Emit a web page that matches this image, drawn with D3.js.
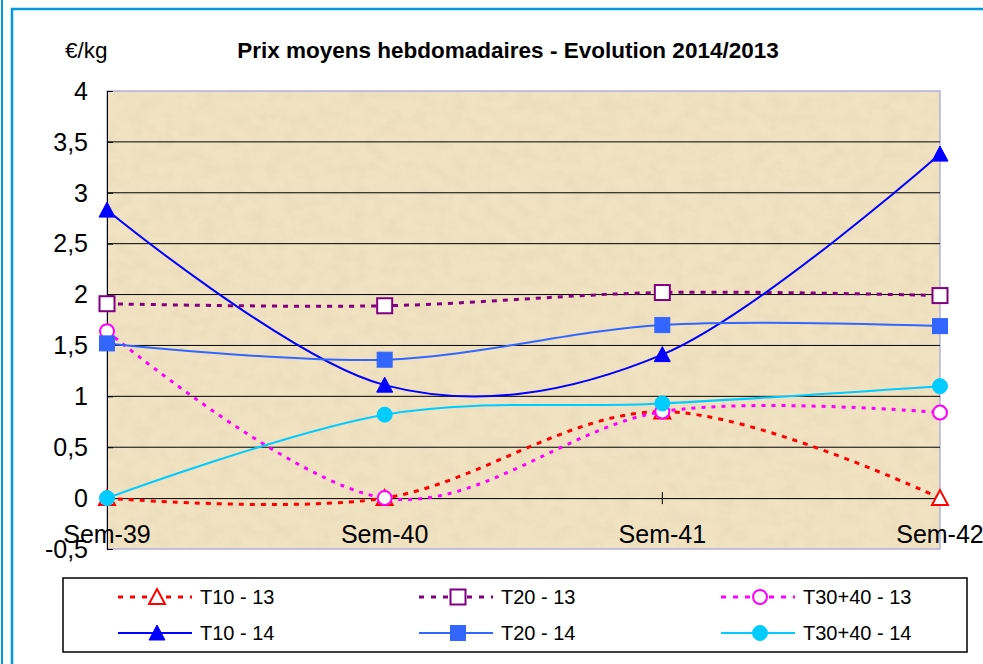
<!DOCTYPE html>
<html>
<head>
<meta charset="utf-8">
<script src="https://cdn.jsdelivr.net/npm/d3@7"></script>
<style>
  body { margin: 0; background: #fff; }
  svg { display: block; font-family: Arial, "Liberation Sans", sans-serif; }
</style>
</head>
<body>
<div id="chart"></div>
<script>
// data
var weeks = ["Sem-39", "Sem-40", "Sem-41", "Sem-42"];
var yTicks = [-0.5, 0, 0.5, 1, 1.5, 2, 2.5, 3, 3.5, 4];

var t10_13 = [0, 0, 0.85, 0];
var t20_13 = [1.91, 1.89, 2.02, 1.99];
var t3040_13 = [1.64, 0, 0.85, 0.84];
var t10_14 = [2.83, 1.11, 1.41, 3.38];
var t20_14 = [1.52, 1.36, 1.70, 1.69];
var t3040_14 = [0, 0.82, 0.93, 1.10];

var seriesNames = ["T10 - 13", "T20 - 13", "T30+40 - 13", "T10 - 14", "T20 - 14", "T30+40 - 14"];

const series = [
  { name: seriesNames[0], values: t10_13, color: "#ff0000", dash: "5,6", sym: "triangle", fill: false },
  { name: seriesNames[1], values: t20_13, color: "#800080", dash: "5,6", sym: "square", fill: false },
  { name: seriesNames[2], values: t3040_13, color: "#ff00ff", dash: "4,6", sym: "circle", fill: false },
  { name: seriesNames[3], values: t10_14, color: "#0000ff", dash: null, sym: "triangle", fill: true },
  { name: seriesNames[4], values: t20_14, color: "#3366ff", dash: null, sym: "square", fill: true },
  { name: seriesNames[5], values: t3040_14, color: "#00ccff", dash: null, sym: "circle", fill: true }
];

const width = 983, height = 664;
const margin = { top: 91, right: 43, bottom: 115, left: 107 };

const svg = d3.select("#chart").append("svg")
  .attr("width", width)
  .attr("height", height);

// blue frames
svg.append("line").attr("x1", 2).attr("x2", 2).attr("y1", 0).attr("y2", height)
  .attr("stroke", "#0099dd").attr("stroke-width", 2);
svg.append("path").attr("d", `M12,${height} V9 H${width}`)
  .attr("fill", "none").attr("stroke", "#0099dd").attr("stroke-width", 2.5);

// parchment texture
const defs = svg.append("defs");
const filt = defs.append("filter").attr("id", "paper").attr("x", 0).attr("y", 0).attr("width", 1).attr("height", 1);
filt.append("feTurbulence").attr("type", "fractalNoise").attr("baseFrequency", "0.06 0.08")
  .attr("numOctaves", 4).attr("seed", 3).attr("result", "noise");
filt.append("feColorMatrix").attr("in", "noise").attr("type", "matrix")
  .attr("values", "0 0 0 0 0.70  0 0 0 0 0.58  0 0 0 0 0.38  1.4 0 0 0 -0.5");

const x = d3.scalePoint().domain(weeks).range([margin.left, width - margin.right]).padding(0);
const y = d3.scaleLinear().domain([-0.5, 4]).range([height - margin.bottom, margin.top]);

const plotW = x.range()[1] - x.range()[0];
const plotH = y(-0.5) - y(4);

svg.append("rect")
  .attr("x", margin.left).attr("y", margin.top)
  .attr("width", plotW).attr("height", plotH)
  .attr("fill", "#f1e3c2");
svg.append("rect")
  .attr("x", margin.left).attr("y", margin.top)
  .attr("width", plotW).attr("height", plotH)
  .attr("filter", "url(#paper)").attr("opacity", 0.35);

// plot border (lavender)
svg.append("rect")
  .attr("x", margin.left).attr("y", margin.top)
  .attr("width", plotW).attr("height", plotH)
  .attr("fill", "none").attr("stroke", "#a0a0e0").attr("stroke-width", 1.2);

// gridlines
svg.append("g").selectAll("line")
  .data(yTicks.filter(d => d > 0 && d < 4))
  .join("line")
  .attr("x1", margin.left).attr("x2", x.range()[1])
  .attr("y1", d => y(d)).attr("y2", d => y(d))
  .attr("stroke", "#000").attr("stroke-width", 1);

// y axis (ticks inside)
const yAxis = d3.axisRight(y).tickValues(yTicks).tickSize(6).tickFormat("");
svg.append("g").attr("transform", `translate(${margin.left},0)`).call(yAxis)
  .call(g => g.select(".domain").attr("stroke", "#000"))
  .call(g => g.selectAll(".tick line").attr("stroke", "#000"));

svg.append("g").selectAll("text")
  .data(yTicks)
  .join("text")
  .attr("x", 88).attr("y", d => y(d))
  .attr("dy", "0.35em")
  .attr("text-anchor", "end")
  .attr("font-size", 25)
  .attr("fill", "#000")
  .text(d => String(d).replace(".", ","));

// x axis at zero
const xAxis = d3.axisBottom(x).tickSize(0).tickFormat("");
const xg = svg.append("g").attr("transform", `translate(0,${y(0)})`).call(xAxis);
xg.select(".domain").attr("stroke", "#000");
xg.selectAll(".tickmark").data(weeks).join("line")
  .attr("x1", d => x(d)).attr("x2", d => x(d))
  .attr("y1", -6).attr("y2", 6)
  .attr("stroke", "#000");

svg.append("g").selectAll("text")
  .data(weeks)
  .join("text")
  .attr("x", d => x(d)).attr("y", y(0) + 45)
  .attr("text-anchor", "middle")
  .attr("font-size", 25)
  .attr("fill", "#000")
  .text(d => d);

// title
svg.append("text").attr("x", 508).attr("y", 58)
  .attr("text-anchor", "middle").attr("font-size", 22.5).attr("font-weight", "bold")
  .text("Prix moyens hebdomadaires - Evolution 2014/2013");
svg.append("text").attr("x", 65).attr("y", 58)
  .attr("font-size", 22.5)
  .text("€/kg");

// symbols
function drawSymbol(g, s, cx, cy) {
  const fill = s.fill ? s.color : "#fff";
  if (s.sym === "triangle") {
    g.append("path")
      .attr("d", `M${cx},${cy - 8} L${cx + 8},${cy + 7} L${cx - 8},${cy + 7} Z`)
      .attr("fill", fill).attr("stroke", s.color).attr("stroke-width", s.fill ? 1 : 2);
  } else if (s.sym === "square") {
    g.append("rect")
      .attr("x", cx - 7.5).attr("y", cy - 7.5).attr("width", 15).attr("height", 15)
      .attr("fill", fill).attr("stroke", s.color).attr("stroke-width", s.fill ? 1 : 2);
  } else {
    g.append("circle")
      .attr("cx", cx).attr("cy", cy).attr("r", s.fill ? 7.5 : 7)
      .attr("fill", fill).attr("stroke", s.color).attr("stroke-width", s.fill ? 1 : 2);
  }
}

const line = d3.line()
  .x((d, i) => x(weeks[i]))
  .y(d => y(d))
  .curve(d3.curveCardinal.tension(0));

const plot = svg.append("g");
series.forEach(s => {
  const g = plot.append("g");
  g.append("path")
    .datum(s.values)
    .attr("d", line)
    .attr("fill", "none")
    .attr("stroke", s.color)
    .attr("stroke-width", s.dash ? 3 : 2)
    .attr("stroke-dasharray", s.dash);
  s.values.forEach((v, i) => drawSymbol(g, s, x(weeks[i]), y(v)));
});

// legend
const lg = svg.append("g");
lg.append("rect").attr("x", 63).attr("y", 578).attr("width", 904).attr("height", 74)
  .attr("fill", "#fff").attr("stroke", "#000").attr("stroke-width", 1.5);

const legCols = [157, 458, 760];
const legRows = [597, 633];
series.forEach((s, i) => {
  const cx = legCols[i % 3], cy = legRows[Math.floor(i / 3)];
  const g = lg.append("g");
  g.append("line").attr("x1", cx - 39).attr("x2", cx + 35).attr("y1", cy).attr("y2", cy)
    .attr("stroke", s.color).attr("stroke-width", s.dash ? 3 : 2)
    .attr("stroke-dasharray", s.dash ? "5,7" : null);
  drawSymbol(g, s, cx, cy);
  g.append("text").attr("x", cx + 43).attr("y", cy).attr("dy", "0.36em")
    .attr("font-size", 20).text(s.name);
});
</script>
</body>
</html>
